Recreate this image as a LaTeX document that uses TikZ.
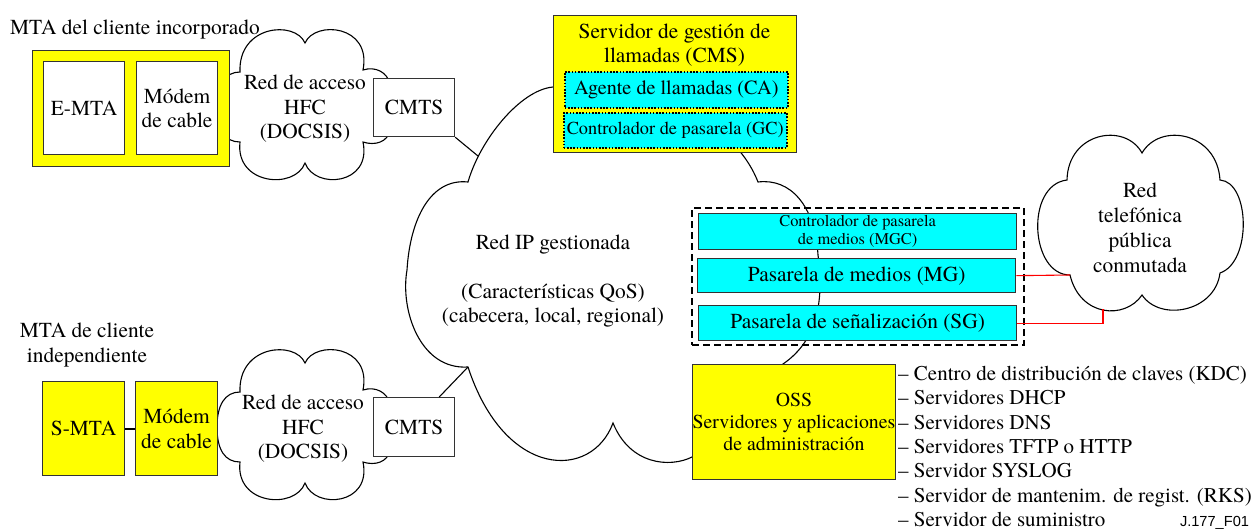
\documentclass[tikz,border=0pt]{standalone}
\usepackage{fontspec}
\setmainfont{TeX Gyre Termes}
\setsansfont{Liberation Sans}
\newcommand\fmainsz{\fontsize{21.4}{24.5}\selectfont}
\definecolor{boxyellow}{HTML}{FFFF00}
\definecolor{boxcyan}{HTML}{00FFFF}
\definecolor{edgegray}{HTML}{333333}
\begin{document}
\begin{tikzpicture}[x=1pt,y=-1pt,
  cloudline/.style={draw=black, line width=1.1pt, fill=white},
  whitebox/.style={draw=edgegray, line width=1.2pt, fill=white, inner sep=0pt, align=center, font=\fmainsz},
  yelbox/.style={draw=edgegray, line width=1.2pt, fill=boxyellow, inner sep=0pt, align=center, font=\fmainsz},
  cyanbox/.style={draw=edgegray, line width=1.3pt, fill=boxcyan, inner sep=0pt, align=center, font=\fmainsz},
  dotbox/.style={draw=black, line width=1.5pt, dash pattern=on 1.6pt off 1.6pt, fill=boxcyan, inner sep=0pt, align=center},
  groupbox/.style={draw=black, line width=2.2pt, dash pattern=on 7pt off 4pt, inner sep=0pt},
  txt/.style={inner sep=0pt, align=center, font=\fmainsz},
  conn/.style={draw=black, line width=1.1pt},
  redconn/.style={draw=red, line width=1.1pt},
  hfccloud/.pic={
    \path[cloudline] (-65,-33) .. controls (-67,-80) and (-10,-85) .. (0,-62)
      .. controls (10,-85) and (67,-80) .. (58,-35)
      .. controls (70,-39) and (83,-33) .. (85,-20) -- (85,25)
      .. controls (83,37) and (70,41) .. (58,37)
      .. controls (67,80) and (10,85) .. (0,58)
      .. controls (-10,85) and (-70,80) .. (-65,37)
      .. controls (-80,37) and (-88,25) .. (-88,2)
      .. controls (-88,-20) and (-80,-33) .. (-65,-33) -- cycle;
  }]
\useasboundingbox (0,0) rectangle (1252,531);

% ---------- clouds ----------
\path[cloudline] (468,182) .. controls (480,140) and (520,90) .. (553,87)
  .. controls (620,70) and (730,110) .. (758,182)
  .. controls (790,178) and (815,205) .. (818,255)
  .. controls (824,300) and (818,340) .. (783,364)
  .. controls (760,380) and (720,440) .. (692,457)
  .. controls (670,468) and (630,465) .. (613,423)
  .. controls (592,480) and (505,480) .. (468,367)
  .. controls (420,370) and (400,310) .. (407,270)
  .. controls (410,220) and (430,178) .. (468,182) -- cycle;
\coordinate (ipA) at (478,156);
\coordinate (ipB) at (468,367);

\path[cloudline] (1067,180) .. controls (1068,132) and (1125,122) .. (1142,153)
  .. controls (1160,122) and (1217,132) .. (1220,180)
  .. controls (1250,182) and (1252,262) .. (1220,273)
  .. controls (1215,312) and (1160,322) .. (1142,295)
  .. controls (1125,320) and (1080,317) .. (1070,275)
  .. controls (1030,275) and (1025,185) .. (1067,180) -- cycle;
\coordinate (pstnA) at (1070,275);
\coordinate (pstnB) at (1103,309);

\pic (hfcA) at (305,105) {hfccloud};
\pic (hfcB) at (305,425) {hfccloud};

% ---------- upper access ----------
\node[txt] (titleA) at (135,30) {MTA del cliente incorporado};
\node[yelbox, minimum width=197, minimum height=116, anchor=north west] (mtaA) at (32,50) {};
\node[whitebox, minimum width=81, minimum height=93, anchor=north west] (emta) at (43,61) {E-MTA};
\node[whitebox, minimum width=81, minimum height=93, anchor=north west] (modemA) at (136,61) {Módem\\de cable};
\node[txt] (hfcAtext) at (305,109) {Red de acceso\\HFC\\(DOCSIS)};
\node[whitebox, minimum width=81, minimum height=58, anchor=north west] (cmtsA) at (373,78) {CMTS};

% ---------- lower access ----------
\node[txt] (titleB) at (87,345) {MTA de cliente\\independiente};
\node[yelbox, minimum width=82, minimum height=94, anchor=north west] (smta) at (42,381) {S-MTA};
\node[yelbox, minimum width=82, minimum height=94, anchor=north west] (modemB) at (135,381) {Módem\\de cable};
\node[txt] (hfcBtext) at (303,429) {Red de acceso\\HFC\\(DOCSIS)};
\node[whitebox, minimum width=81, minimum height=59, anchor=north west] (cmtsB) at (373,397) {CMTS};

% ---------- IP network text ----------
\node[txt] (iptext) at (553,281) {Red IP gestionada\\[24.5pt](Características QoS)\\(cabecera, local, regional)};

% ---------- CMS ----------
\node[yelbox, minimum width=243, minimum height=137, anchor=north west] (cms) at (553,15) {};
\node[txt] (cmstitle) at (674.5,45) {Servidor de gestión de\\llamadas (CMS)};
\node[dotbox, minimum width=223, minimum height=36, anchor=north west, font=\fontsize{20.2}{23}\selectfont] (ca) at (564,71) {Agente de llamadas (CA)};
\node[dotbox, minimum width=223, minimum height=35, anchor=north west, font=\fontsize{18.3}{21}\selectfont] (gc) at (563,112) {Controlador de pasarela (GC)};

% ---------- gateways ----------
\node[cyanbox, minimum width=318, minimum height=36, anchor=north west, font=\fontsize{16.4}{18}\selectfont] (mgc) at (698,213) {Controlador de pasarela\\de medios (MGC)};
\node[cyanbox, minimum width=318, minimum height=34, anchor=north west] (mg) at (697,258) {Pasarela de medios (MG)};
\node[cyanbox, minimum width=318, minimum height=35, anchor=north west] (sg) at (698,305) {Pasarela de señalización (SG)};
\node[groupbox, minimum width=332, minimum height=137, anchor=north west] (gwgroup) at (691,207) {};

% ---------- PSTN ----------
\node[txt, font=\fontsize{21.4}{25}\selectfont] (pstntext) at (1140,228) {Red\\telefónica\\pública\\conmutada};

% ---------- OSS ----------
\node[yelbox, minimum width=197, minimum height=115, anchor=north west, font=\fontsize{19.8}{22}\selectfont] (oss) at (692,364) {OSS\\Servidores y aplicaciones\\de administración};
\node[inner sep=0pt, align=left, anchor=north west, font=\fontsize{21}{24.3}\selectfont] (osslist) at (898,366) {– Centro de distribución de claves (KDC)\\– Servidores DHCP\\– Servidores DNS\\– Servidores TFTP o HTTP\\– Servidor SYSLOG\\– Servidor de mantenim. de regist. (RKS)\\– Servidor de suministro};
\node[inner sep=0pt, font=\sffamily\fontsize{14.6}{16}\selectfont] (figid) at (1214.5,523) {J.177\_F01};

% ---------- connectors ----------
\draw[conn] (cmtsA.south east) -- (ipA);
\draw[conn] ([xshift=-16pt]cmtsB.north east) -- (ipB);
\draw[conn, line width=1.8pt] (smta.east) -- (modemB.west);
\draw[redconn] (mg.east) -- (pstnA);
\draw[redconn] (sg.east) -| (pstnB);
\end{tikzpicture}
\end{document}
